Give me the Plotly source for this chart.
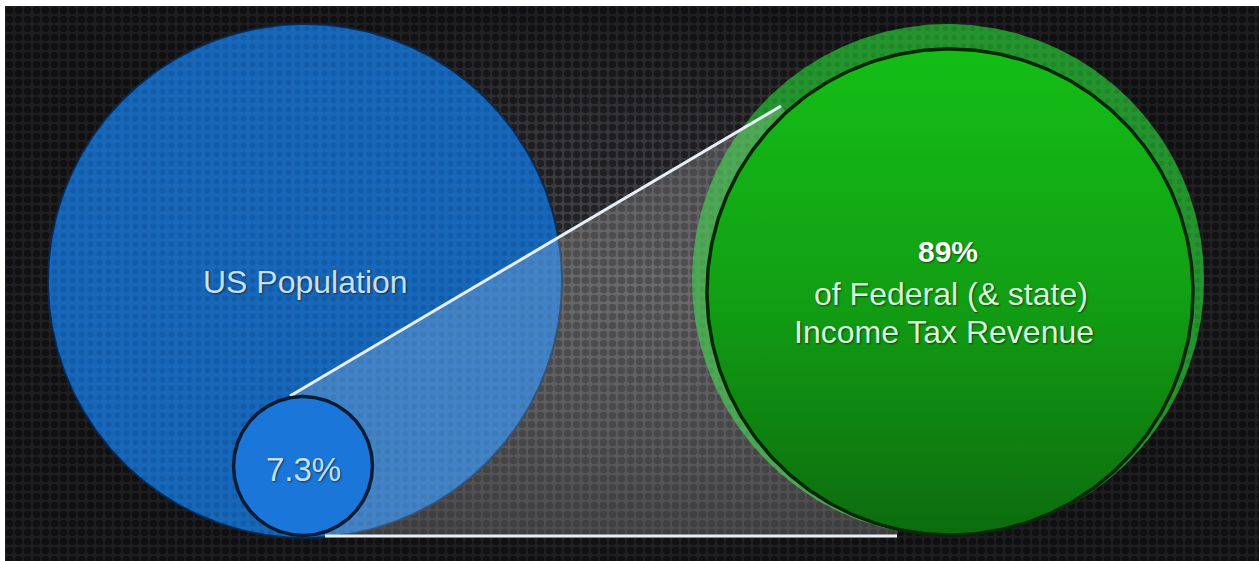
import numpy as np
import plotly.graph_objects as go

# ---- data ----
population_label = "US Population"
top_share_pct = 7.3          # share of population
revenue_share_pct = 89       # share of income tax revenue
revenue_lines = ["of Federal (& state)", "Income Tax Revenue"]

# ---- layout constants (pixel space) ----
W, H = 1259, 561
X0, Y0 = 5, 6
BIG_C, BIG_R = (305, 281), 257
SMALL_R = BIG_R * np.sqrt(top_share_pct / 100.0)
SMALL_C = (303, 466)
GREEN_C, GREEN_R = (950, 292), 243
HALO_C, HALO_R = (948, 280), 256


def circle_pts(c, r, n=361):
    t = np.linspace(0, 2 * np.pi, n)
    return c[0] + r * np.cos(t), c[1] + r * np.sin(t)


fig = go.Figure()

# background gradient
rx = [X0, W, W, X0, X0]
ry = [Y0, Y0, H, H, Y0]
fig.add_trace(go.Scatter(
    x=rx, y=ry, mode="lines", line=dict(width=0), fill="toself",
    fillgradient=dict(type="radial",
                      colorscale=[[0, "rgb(72,72,76)"], [0.55, "rgb(54,54,58)"], [1, "rgb(30,30,33)"]]),
    hoverinfo="skip", showlegend=False))
# background dot mesh
fig.add_trace(go.Scatter(
    x=rx, y=ry, mode="lines", line=dict(width=0), fill="toself",
    fillcolor="rgba(0,0,0,0)",
    fillpattern=dict(shape=".", size=9, solidity=0.55,
                     fgcolor="rgba(0,0,0,0.92)", bgcolor="rgba(0,0,0,0)"),
    hoverinfo="skip", showlegend=False))

# big blue circle (population)
bx, by = circle_pts(BIG_C, BIG_R)
fig.add_trace(go.Scatter(
    x=bx, y=by, mode="lines", line=dict(width=2, color="rgba(8,40,80,0.9)"), fill="toself",
    fillcolor="rgb(22,100,180)",
    fillpattern=dict(shape=".", size=9, solidity=0.35,
                     fgcolor="rgb(16,82,152)", bgcolor="rgb(23,103,186)"),
    hoverinfo="skip", showlegend=False))

# green halo
hx, hy = circle_pts(HALO_C, HALO_R)
fig.add_trace(go.Scatter(
    x=hx, y=hy, mode="lines", line=dict(width=0), fill="toself",
    fillcolor="rgba(34,145,44,0.9)",
    fillpattern=dict(shape=".", size=9, solidity=0.3,
                     fgcolor="rgb(28,120,36)", bgcolor="rgb(36,148,46)"),
    hoverinfo="skip", showlegend=False))

# translucent projection
top_start, top_end = (290, 396), (781, 106)
bot_start, bot_end = (325, 536), (897, 536)
fig.add_trace(go.Scatter(
    x=[top_start[0], top_end[0], GREEN_C[0], bot_end[0], bot_start[0], top_start[0]],
    y=[top_start[1], top_end[1], GREEN_C[1], bot_end[1], bot_start[1], top_start[1]],
    mode="lines", line=dict(width=0), fill="toself",
    fillcolor="rgba(255,255,255,0.19)",
    hoverinfo="skip", showlegend=False))

# connector lines
for s, e in [(top_start, top_end), (bot_start, bot_end)]:
    fig.add_trace(go.Scatter(
        x=[s[0], e[0]], y=[s[1], e[1]], mode="lines",
        line=dict(color="rgb(232,238,245)", width=3),
        hoverinfo="skip", showlegend=False))

# small circle (7.3%)
sx, sy = circle_pts(SMALL_C, SMALL_R)
fig.add_trace(go.Scatter(
    x=sx, y=sy, mode="lines", line=dict(color="rgb(8,28,52)", width=3.5), fill="toself",
    fillcolor="rgb(26,118,216)",
    hoverinfo="skip", showlegend=False))

# green circle (89%)
gx, gy = circle_pts(GREEN_C, GREEN_R)
fig.add_trace(go.Scatter(
    x=gx, y=gy, mode="lines", line=dict(color="rgb(6,40,6)", width=3.5), fill="toself",
    fillgradient=dict(type="vertical", start=GREEN_C[1] - GREEN_R, stop=GREEN_C[1] + GREEN_R,
                      colorscale=[[0, "rgb(20,190,22)"], [0.5, "rgb(18,160,20)"], [1, "rgb(12,108,14)"]]),
    hoverinfo="skip", showlegend=False))

FONT = "Liberation Sans, Arial, Helvetica, sans-serif"
SHADOW = "1px 1px 2px rgba(0,0,0,0.55)"
annotations = [
    dict(x=BIG_C[0], y=282, text=population_label,
         font=dict(family=FONT, size=32, color="rgb(200,224,244)", shadow=SHADOW)),
    dict(x=SMALL_C[0], y=469, text=f"{top_share_pct}%",
         font=dict(family=FONT, size=33, color="rgb(196,224,248)", shadow=SHADOW)),
    dict(x=948, y=251, text=f"<b>{revenue_share_pct}%</b>",
         font=dict(family=FONT, size=30, color="rgb(250,255,250)", shadow=SHADOW)),
    dict(x=951, y=294, text=revenue_lines[0],
         font=dict(family=FONT, size=32, color="rgb(218,246,218)", shadow=SHADOW)),
    dict(x=944, y=332, text=revenue_lines[1],
         font=dict(family=FONT, size=32, color="rgb(218,246,218)", shadow=SHADOW)),
]
for a in annotations:
    a.update(xref="x", yref="y", showarrow=False, xanchor="center", yanchor="middle")

fig.update_layout(
    width=W, height=H,
    margin=dict(l=X0, r=0, t=Y0, b=0, pad=0),
    paper_bgcolor="white",
    plot_bgcolor="rgb(30,30,32)",
    xaxis=dict(range=[X0, W], visible=False, fixedrange=True),
    yaxis=dict(range=[H, Y0], visible=False, fixedrange=True),
    annotations=annotations,
    showlegend=False,
)

fig.write_html("out.html", config={"displayModeBar": False})
